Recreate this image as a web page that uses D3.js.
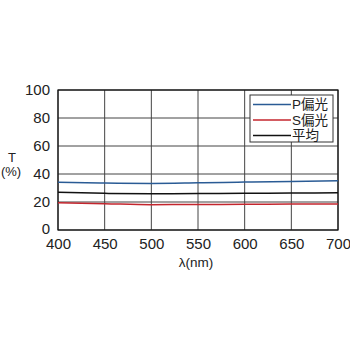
<!DOCTYPE html>
<html><head><meta charset="utf-8">
<script src="https://cdn.jsdelivr.net/npm/d3@7"></script>
<style>body{margin:0;background:#fff}svg{display:block}text{font-family:"Liberation Sans","Noto Sans CJK JP",sans-serif}</style>
</head><body><svg id="c" width="350" height="350"></svg>
<script>
const wavelengths = [400, 450, 500, 550, 600, 650, 700];
const pPol = [34.1, 33.6, 33.3, 33.7, 34.2, 34.6, 35.2];
const sPol = [19.5, 18.8, 18.1, 18.2, 18.4, 18.5, 18.6];
const avg  = [26.9, 26.2, 25.9, 26.0, 26.2, 26.4, 26.6];
const xTicks = [400, 450, 500, 550, 600, 650, 700];
const yTicks = [0, 20, 40, 60, 80, 100];
const seriesNames = ["P偏光", "S偏光", "平均"];
const seriesColors = ["#2a5b95", "#c4262e", "#111"];

const svg = d3.select("#c");
const m = {l:58, r:338, t:90, b:230};
const x = d3.scaleLinear().domain([400,700]).range([m.l, m.r]);
const y = d3.scaleLinear().domain([0,100]).range([m.b, m.t]);

const g = svg.append("g");
g.selectAll(".vg").data(xTicks).join("line")
  .attr("x1", d=>x(d)).attr("x2", d=>x(d)).attr("y1", m.t).attr("y2", m.b)
  .attr("stroke", "#444").attr("stroke-width", 1);
g.selectAll(".hg").data(yTicks).join("line")
  .attr("x1", m.l).attr("x2", m.r).attr("y1", d=>y(d)).attr("y2", d=>y(d))
  .attr("stroke", "#444").attr("stroke-width", 1);
g.append("rect").attr("x", m.l).attr("y", m.t).attr("width", m.r-m.l).attr("height", m.b-m.t)
  .attr("fill","none").attr("stroke","#111").attr("stroke-width",1.2);

const xAxis = d3.axisBottom(x).tickValues(xTicks).tickSize(0).tickPadding(6);
svg.append("g").attr("transform", `translate(0,${m.b})`).call(xAxis)
  .call(s=>s.select(".domain").remove())
  .selectAll("text").attr("font-size", 15).attr("fill", "#222").attr("dy","0.85em");
const yAxis = d3.axisLeft(y).tickValues(yTicks).tickSize(0).tickPadding(8);
svg.append("g").attr("transform", `translate(${m.l},0)`).call(yAxis)
  .call(s=>s.select(".domain").remove())
  .selectAll("text").attr("font-size", 15).attr("fill", "#222")
  .attr("dy", d => d === 0 ? "0.2em" : "0.32em");

const line = d3.line().x((d,i)=>x(wavelengths[i])).y(d=>y(d)).curve(d3.curveMonotoneX);
[pPol, sPol, avg].forEach((s,i)=>{
  svg.append("path").attr("d", line(s)).attr("fill","none")
    .attr("stroke", seriesColors[i]).attr("stroke-width", 1.5);
});

// legend
const lg = svg.append("g");
lg.append("rect").attr("x",250).attr("y",95).attr("width",83).attr("height",47)
  .attr("fill","#fff").attr("stroke","#333").attr("stroke-width",1);
seriesNames.forEach((n,i)=>{
  const yy = 104.5 + i*15.5;
  lg.append("line").attr("x1",253).attr("x2",291).attr("y1",yy).attr("y2",yy)
    .attr("stroke", seriesColors[i]).attr("stroke-width",1.3);
  lg.append("text").attr("x",292).attr("y",yy).attr("dy","0.36em")
    .attr("font-size",13.5).attr("fill","#222").text(n);
});

svg.append("text").attr("x",12).attr("y",157).attr("dy","0.35em").attr("text-anchor","middle")
  .attr("font-size",13).attr("fill","#222").text("T");
svg.append("text").attr("x",11).attr("y",171).attr("dy","0.35em").attr("text-anchor","middle")
  .attr("font-size",13).attr("fill","#222").text("(%)");
svg.append("text").attr("x",196).attr("y",262).attr("dy","0.35em").attr("text-anchor","middle")
  .attr("font-size",13.5).attr("fill","#222").text("λ(nm)");
</script></body></html>
